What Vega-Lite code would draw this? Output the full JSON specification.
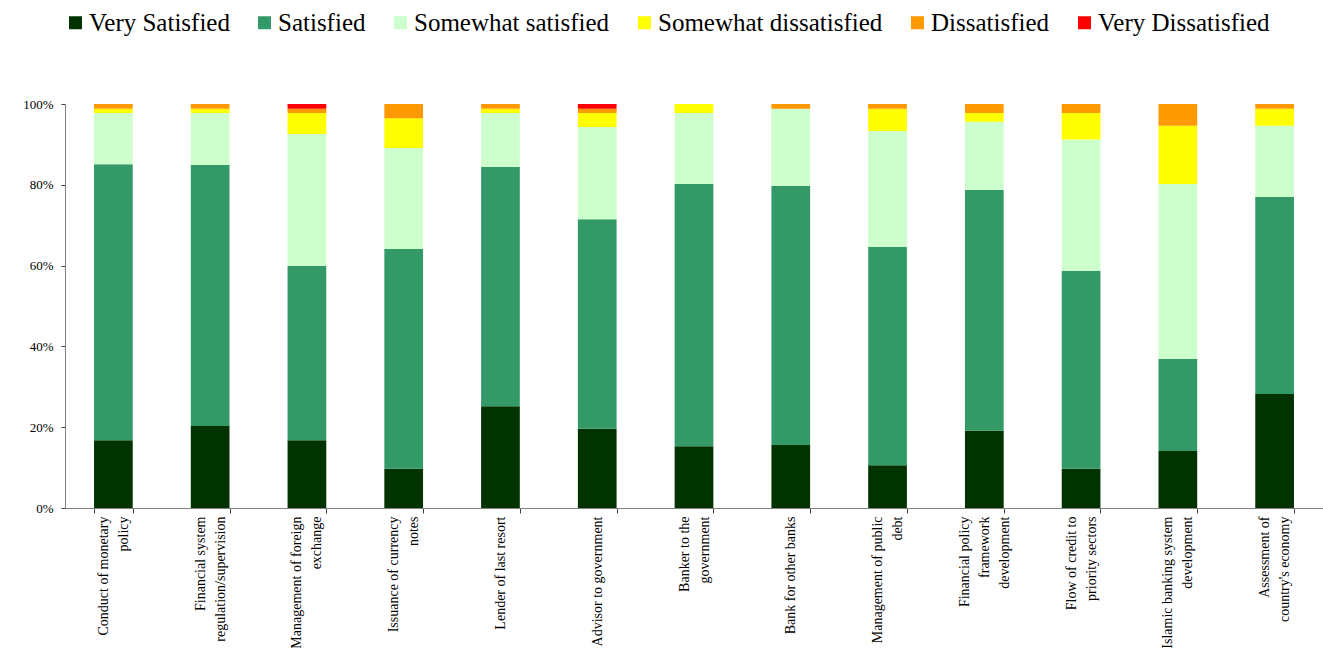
{
  "$schema": "https://vega.github.io/schema/vega-lite/v6.json",
  "width": 1258,
  "height": 404,
  "autosize": {"type": "none"},
  "padding": {"left": 65, "top": 104, "right": 0, "bottom": 146},
  "background": "white",
  "config": {
    "font": "Liberation Serif",
    "view": {"stroke": null},
    "axis": {"labelFont": "Liberation Serif", "labelColor": "black", "grid": false, "domainColor": "#808080", "tickColor": "#404040", "titleFont": "Liberation Serif"},
    "legend": {"labelFont": "Liberation Serif", "titleFont": "Liberation Serif"}
  },
  "data": {
    "values": [
      {"function": "Conduct of monetary|policy", "rating": "Very Satisfied", "level": 1, "pct": 16.8},
      {"function": "Conduct of monetary|policy", "rating": "Satisfied", "level": 2, "pct": 68.3},
      {"function": "Conduct of monetary|policy", "rating": "Somewhat satisfied", "level": 3, "pct": 12.7},
      {"function": "Conduct of monetary|policy", "rating": "Somewhat dissatisfied", "level": 4, "pct": 1.0},
      {"function": "Conduct of monetary|policy", "rating": "Dissatisfied", "level": 5, "pct": 1.2},

      {"function": "Financial system|regulation/supervision", "rating": "Very Satisfied", "level": 1, "pct": 20.3},
      {"function": "Financial system|regulation/supervision", "rating": "Satisfied", "level": 2, "pct": 64.6},
      {"function": "Financial system|regulation/supervision", "rating": "Somewhat satisfied", "level": 3, "pct": 12.9},
      {"function": "Financial system|regulation/supervision", "rating": "Somewhat dissatisfied", "level": 4, "pct": 1.0},
      {"function": "Financial system|regulation/supervision", "rating": "Dissatisfied", "level": 5, "pct": 1.2},

      {"function": "Management of foreign|exchange", "rating": "Very Satisfied", "level": 1, "pct": 16.8},
      {"function": "Management of foreign|exchange", "rating": "Satisfied", "level": 2, "pct": 43.1},
      {"function": "Management of foreign|exchange", "rating": "Somewhat satisfied", "level": 3, "pct": 32.7},
      {"function": "Management of foreign|exchange", "rating": "Somewhat dissatisfied", "level": 4, "pct": 5.2},
      {"function": "Management of foreign|exchange", "rating": "Dissatisfied", "level": 5, "pct": 1.0},
      {"function": "Management of foreign|exchange", "rating": "Very Dissatisfied", "level": 6, "pct": 1.2},

      {"function": "Issuance of currency|notes", "rating": "Very Satisfied", "level": 1, "pct": 9.7},
      {"function": "Issuance of currency|notes", "rating": "Satisfied", "level": 2, "pct": 54.4},
      {"function": "Issuance of currency|notes", "rating": "Somewhat satisfied", "level": 3, "pct": 25.0},
      {"function": "Issuance of currency|notes", "rating": "Somewhat dissatisfied", "level": 4, "pct": 7.4},
      {"function": "Issuance of currency|notes", "rating": "Dissatisfied", "level": 5, "pct": 3.5},

      {"function": "Lender of last resort", "rating": "Very Satisfied", "level": 1, "pct": 25.2},
      {"function": "Lender of last resort", "rating": "Satisfied", "level": 2, "pct": 59.2},
      {"function": "Lender of last resort", "rating": "Somewhat satisfied", "level": 3, "pct": 13.4},
      {"function": "Lender of last resort", "rating": "Somewhat dissatisfied", "level": 4, "pct": 1.0},
      {"function": "Lender of last resort", "rating": "Dissatisfied", "level": 5, "pct": 1.2},

      {"function": "Advisor to government", "rating": "Very Satisfied", "level": 1, "pct": 19.6},
      {"function": "Advisor to government", "rating": "Satisfied", "level": 2, "pct": 51.9},
      {"function": "Advisor to government", "rating": "Somewhat satisfied", "level": 3, "pct": 22.8},
      {"function": "Advisor to government", "rating": "Somewhat dissatisfied", "level": 4, "pct": 3.5},
      {"function": "Advisor to government", "rating": "Dissatisfied", "level": 5, "pct": 1.0},
      {"function": "Advisor to government", "rating": "Very Dissatisfied", "level": 6, "pct": 1.2},

      {"function": "Banker to the|government", "rating": "Very Satisfied", "level": 1, "pct": 15.3},
      {"function": "Banker to the|government", "rating": "Satisfied", "level": 2, "pct": 64.9},
      {"function": "Banker to the|government", "rating": "Somewhat satisfied", "level": 3, "pct": 17.6},
      {"function": "Banker to the|government", "rating": "Somewhat dissatisfied", "level": 4, "pct": 2.2},

      {"function": "Bank for other banks", "rating": "Very Satisfied", "level": 1, "pct": 15.6},
      {"function": "Bank for other banks", "rating": "Satisfied", "level": 2, "pct": 64.1},
      {"function": "Bank for other banks", "rating": "Somewhat satisfied", "level": 3, "pct": 19.1},
      {"function": "Bank for other banks", "rating": "Dissatisfied", "level": 5, "pct": 1.2},

      {"function": "Management of public|debt", "rating": "Very Satisfied", "level": 1, "pct": 10.6},
      {"function": "Management of public|debt", "rating": "Satisfied", "level": 2, "pct": 54.0},
      {"function": "Management of public|debt", "rating": "Somewhat satisfied", "level": 3, "pct": 28.7},
      {"function": "Management of public|debt", "rating": "Somewhat dissatisfied", "level": 4, "pct": 5.5},
      {"function": "Management of public|debt", "rating": "Dissatisfied", "level": 5, "pct": 1.2},

      {"function": "Financial policy|framework|development", "rating": "Very Satisfied", "level": 1, "pct": 19.1},
      {"function": "Financial policy|framework|development", "rating": "Satisfied", "level": 2, "pct": 59.6},
      {"function": "Financial policy|framework|development", "rating": "Somewhat satisfied", "level": 3, "pct": 16.9},
      {"function": "Financial policy|framework|development", "rating": "Somewhat dissatisfied", "level": 4, "pct": 2.2},
      {"function": "Financial policy|framework|development", "rating": "Dissatisfied", "level": 5, "pct": 2.2},

      {"function": "Flow of credit to|priority sectors", "rating": "Very Satisfied", "level": 1, "pct": 9.7},
      {"function": "Flow of credit to|priority sectors", "rating": "Satisfied", "level": 2, "pct": 49.0},
      {"function": "Flow of credit to|priority sectors", "rating": "Somewhat satisfied", "level": 3, "pct": 32.5},
      {"function": "Flow of credit to|priority sectors", "rating": "Somewhat dissatisfied", "level": 4, "pct": 6.6},
      {"function": "Flow of credit to|priority sectors", "rating": "Dissatisfied", "level": 5, "pct": 2.2},

      {"function": "Islamic banking system|development", "rating": "Very Satisfied", "level": 1, "pct": 14.1},
      {"function": "Islamic banking system|development", "rating": "Satisfied", "level": 2, "pct": 22.8},
      {"function": "Islamic banking system|development", "rating": "Somewhat satisfied", "level": 3, "pct": 43.3},
      {"function": "Islamic banking system|development", "rating": "Somewhat dissatisfied", "level": 4, "pct": 14.4},
      {"function": "Islamic banking system|development", "rating": "Dissatisfied", "level": 5, "pct": 5.4},

      {"function": "Assessment of|country's economy", "rating": "Very Satisfied", "level": 1, "pct": 28.2},
      {"function": "Assessment of|country's economy", "rating": "Satisfied", "level": 2, "pct": 48.8},
      {"function": "Assessment of|country's economy", "rating": "Somewhat satisfied", "level": 3, "pct": 17.6},
      {"function": "Assessment of|country's economy", "rating": "Somewhat dissatisfied", "level": 4, "pct": 4.2},
      {"function": "Assessment of|country's economy", "rating": "Dissatisfied", "level": 5, "pct": 1.2}
    ]
  },
  "mark": {"type": "bar"},
  "encoding": {
    "x": {
      "field": "function",
      "type": "nominal",
      "sort": null,
      "scale": {"paddingInner": 0.6, "paddingOuter": 0.3},
      "axis": {
        "title": null,
        "labelAngle": -90,
        "labelAlign": "right",
        "labelBaseline": "middle",
        "labelFontSize": 14,
        "labelLineHeight": 20,
        "labelExpr": "split(datum.label, '|')",
        "labelOffset": {
          "condition": [
            {"test": "length(split(datum.value, '|')) == 3", "value": -20},
            {"test": "length(split(datum.value, '|')) == 2", "value": -10}
          ],
          "value": 0
        },
        "tickBand": "extent",
        "tickSize": 5,
        "labelPadding": 3,
        "labelLimit": 0
      }
    },
    "y": {
      "field": "pct",
      "type": "quantitative",
      "stack": "normalize",
      "scale": {"domain": [0, 1]},
      "axis": {
        "title": null,
        "values": [0, 0.2, 0.4, 0.6, 0.8, 1],
        "format": ".0%",
        "labelFontSize": 13,
        "tickSize": 4,
        "labelPadding": 8
      }
    },
    "color": {
      "field": "rating",
      "type": "nominal",
      "sort": ["Very Satisfied", "Satisfied", "Somewhat satisfied", "Somewhat dissatisfied", "Dissatisfied", "Very Dissatisfied"],
      "scale": {
        "domain": ["Very Satisfied", "Satisfied", "Somewhat satisfied", "Somewhat dissatisfied", "Dissatisfied", "Very Dissatisfied"],
        "range": ["#003300", "#339966", "#CCFFCC", "#FFFF00", "#FF9900", "#FF0000"]
      },
      "legend": {
        "title": null,
        "orient": "none",
        "direction": "horizontal",
        "legendX": -2,
        "legendY": -94,
        "padding": 0,
        "symbolType": "square",
        "symbolSize": 169,
        "symbolStrokeWidth": 0,
        "symbolOpacity": 1,
        "labelFont": "Liberation Serif",
        "labelFontSize": 25,
        "labelColor": "black",
        "labelOffset": 1,
        "columnPadding": 22,
        "labelLimit": 0
      }
    },
    "order": {"field": "level", "type": "quantitative", "sort": "ascending"}
  }
}
